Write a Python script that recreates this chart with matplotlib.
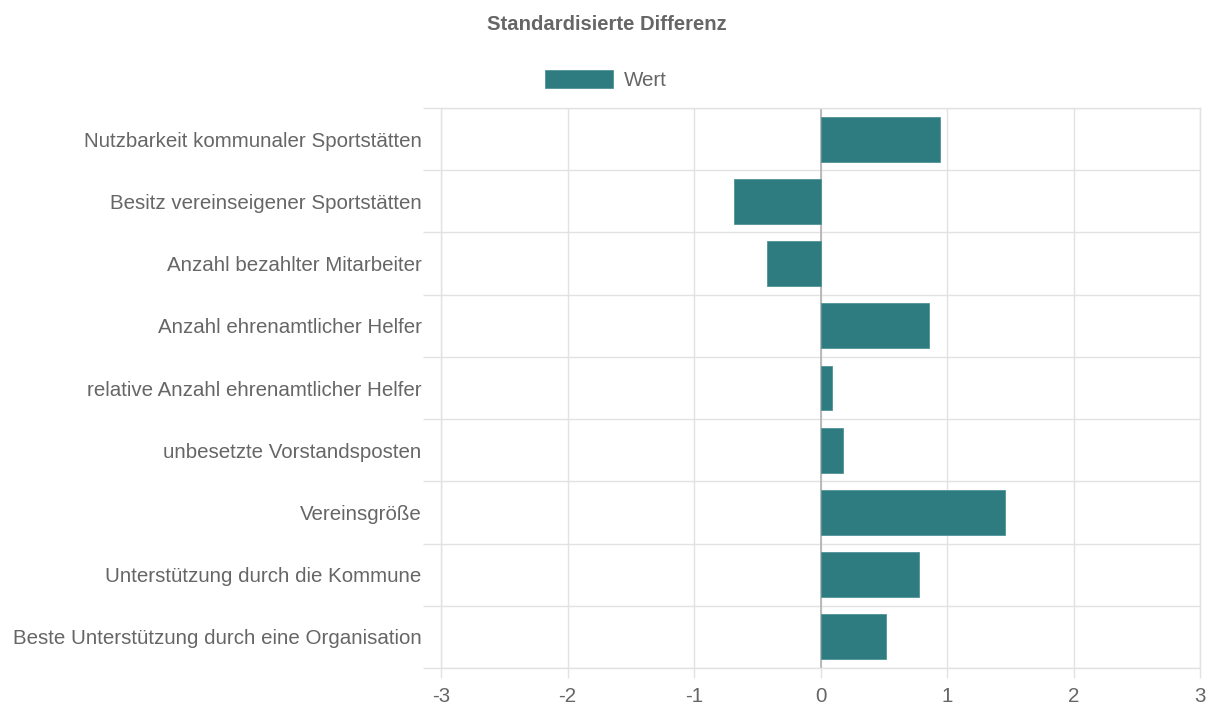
import matplotlib
matplotlib.use("Agg")
import matplotlib.pyplot as plt
import numpy as np

categories = [
    "Nutzbarkeit kommunaler Sportstätten",
    "Besitz vereinseigener Sportstätten",
    "Anzahl bezahlter Mitarbeiter",
    "Anzahl ehrenamtlicher Helfer",
    "relative Anzahl ehrenamtlicher Helfer",
    "unbesetzte Vorstandsposten",
    "Vereinsgröße",
    "Unterstützung durch die Kommune",
    "Beste Unterstützung durch eine Organisation",
]
values = [0.945, -0.68, -0.42, 0.86, 0.09, 0.18, 1.46, 0.78, 0.52]
xticks = [-3, -2, -1, 0, 1, 2, 3]

barColor = "#2e7b80"
gridColor = "#e2e2e2"
textColor = "#666666"
fs = 14.8

plt.rcParams["font.family"] = ["Liberation Sans", "DejaVu Sans"]

fig = plt.figure(figsize=(12.07, 7.04), dpi=100)
ax = fig.add_axes([441/1207, 1-668/704, (1200-441)/1207, (668-108)/704])

y = np.arange(len(categories))
ax.barh(y, values, height=0.72, color=barColor, edgecolor="#4f9499", linewidth=0.6, label="Wert", zorder=3)

ax.set_xlim(-3, 3)
ax.set_ylim(len(categories)-0.5, -0.5)

# x axis
ax.set_xticks(xticks)
ax.set_xticklabels([str(t) for t in xticks])
ax.tick_params(axis="x", which="major", length=7.5, width=1, color=gridColor,
               pad=6, labelsize=fs, labelcolor=textColor)
ax.grid(axis="x", which="major", color=gridColor, linewidth=1, zorder=0)
ax.axvline(0, color="#b0b0b0", linewidth=1.2, zorder=2)

# y axis: labels on categories, grid on boundaries
ax.set_yticks(y)
ax.set_yticklabels(categories)
ax.set_yticks(np.arange(len(categories)+1)-0.5, minor=True)
ax.tick_params(axis="y", which="major", length=0, pad=14, labelsize=fs, labelcolor=textColor)
ax.tick_params(axis="y", which="minor", length=13, width=1, color=gridColor)
ax.grid(axis="y", which="minor", color=gridColor, linewidth=1, zorder=0)

for s in ax.spines.values():
    s.set_color(gridColor)
    s.set_linewidth(1)

fig.text(607/1207, 1-24/704, "Standardisierte Differenz", ha="center", va="center",
         fontsize=14.6, fontweight="bold", color=textColor)

fig.legend(loc="center", bbox_to_anchor=(606/1207, 1-80/704), frameon=False,
           handlelength=3.3, handleheight=0.95, handletextpad=0.55,
           fontsize=fs, labelcolor=textColor)

fig.savefig("out.png", dpi=100, facecolor="white")
